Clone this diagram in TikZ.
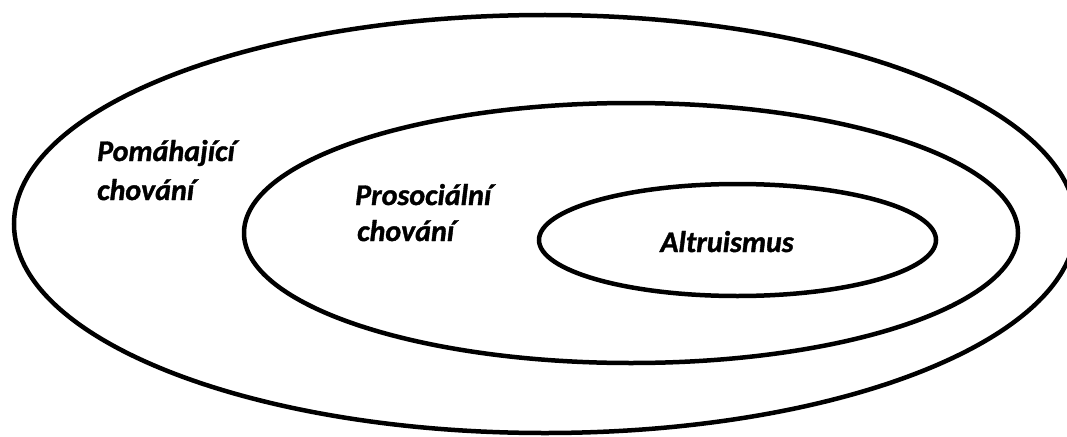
\documentclass[tikz,border=0pt]{standalone}
\usepackage{fontspec}
\setmainfont{Carlito}[BoldItalicFeatures={FakeBold=1.2}]
\begin{document}
\begin{tikzpicture}[x=1pt,y=-1pt,
  ring/.style={draw=black,line width=4.5pt},
  lbl/.style={font=\fontsize{30}{34}\selectfont\bfseries\itshape,inner sep=0pt,anchor=base west}]
\useasboundingbox (0,0) rectangle (1067,436);
\clip (0,0) rectangle (1067,436);
\draw[ring] (545,224) ellipse [x radius=531, y radius=209];
\draw[ring] (631,233) ellipse [x radius=387, y radius=130];
\draw[ring] (737.5,240) ellipse [x radius=198.5, y radius=56];
\node[lbl] (p1) at (97,161) {Pomáhající};
\node[lbl] (p2) at (97,200) {chování};
\node[lbl] (s1) at (355,205) {Prosociální};
\node[lbl] (s2) at (357,241) {chování};
\node[lbl,anchor=base] (a1) at (727,252) {Altruismus};
\end{tikzpicture}
\end{document}
